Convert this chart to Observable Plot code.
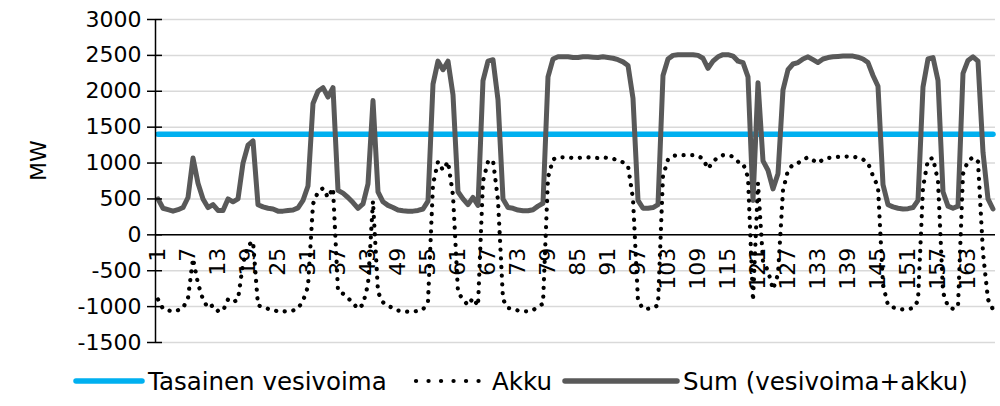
<!DOCTYPE html>
<html>
<head>
<meta charset="utf-8">
<script src="https://cdn.jsdelivr.net/npm/d3@7"></script>
<script src="https://cdn.jsdelivr.net/npm/@observablehq/plot@0.6"></script>
<style>
  html, body { margin: 0; padding: 0; background: #fff; }
  #wrap { width: 1000px; height: 406px; position: relative; overflow: hidden; font-family: "DejaVu Sans", Verdana, sans-serif; }
  #legend { position: relative; width: 1000px; height: 50px; }
  .item { position: absolute; top: 0; height: 50px; display: flex; align-items: center; font-size: 24.5px; color: #000; white-space: nowrap; }
  .item svg { display: block; margin-right: 3px; }
</style>
</head>
<body>
<div id="wrap">
  <div id="chart"></div>
  <div id="legend"></div>
</div>
<script>
// ---- data ----
const hours = [
  1,2,3,4,5,6,7,8,9,10,11,12,13,14,15,16,17,18,19,20,21,22,23,24,25,26,27,28,29,30,
  31,32,33,34,35,36,37,38,39,40,41,42,43,44,45,46,47,48,49,50,51,52,53,54,55,56,57,58,59,60,
  61,62,63,64,65,66,67,68,69,70,71,72,73,74,75,76,77,78,79,80,81,82,83,84,85,86,87,88,89,90,
  91,92,93,94,95,96,97,98,99,100,101,102,103,104,105,106,107,108,109,110,111,112,113,114,115,116,117,118,119,120,
  121,122,123,124,125,126,127,128,129,130,131,132,133,134,135,136,137,138,139,140,141,142,143,144,145,146,147,148,149,150,
  151,152,153,154,155,156,157,158,159,160,161,162,163,164,165,166,167,168
];
const xTickLabels = [1,7,13,19,25,31,37,43,49,55,61,67,73,79,85,91,97,103,109,115,121,127,133,139,145,151,157,163];
const yTicks = [-1500,-1000,-500,0,500,1000,1500,2000,2500,3000];
const seriesNames = ["Tasainen vesivoima", "Akku", "Sum (vesivoima+akku)"];
const hydroLevel = 1400; // Tasainen vesivoima, MW (flat)
const akku = [
  -900,-1030,-1050,-1070,-1050,-1020,-880,-330,-680,-900,-1020,-980,-1060,-1060,-900,-940,-900,-400,-150,-90,
  -980,-1010,-1030,-1040,-1070,-1070,-1060,-1055,-1025,-920,-720,430,600,650,520,650,-780,-820,-880,-950,
  -1030,-970,-690,470,-800,-940,-990,-1020,-1055,-1065,-1070,-1070,-1060,-1040,-930,700,1020,900,1020,550,
  -800,-900,-980,-880,-990,750,1020,1040,480,-900,-1020,-1030,-1055,-1065,-1065,-1050,-1000,-960,800,1050,
  1080,1080,1080,1070,1070,1080,1080,1075,1070,1080,1070,1060,1040,1010,960,500,-920,-1030,-1030,-1020,
  -980,820,1050,1100,1110,1110,1110,1110,1100,1060,920,1020,1080,1110,1110,1090,1020,1000,800,-920,
  720,-370,-500,-760,-550,620,900,980,1000,1050,1080,1040,1000,1050,1070,1080,1085,1090,1090,1090,
  1075,1050,1000,820,670,-700,-980,-1010,-1030,-1040,-1035,-1020,-920,660,1050,1070,750,-800,-1000,-1030,
  -1000,850,1030,1080,1020,-250,-900,-1040
];
const sumSeries = [
  500,370,350,330,350,380,520,1070,720,500,380,420,340,340,500,460,500,1000,1250,1310,
  420,390,370,360,330,330,340,345,375,480,680,1830,2000,2050,1920,2050,620,580,520,450,
  370,430,710,1870,600,460,410,380,345,335,330,330,340,360,470,2100,2420,2300,2420,1950,
  600,500,420,520,410,2150,2420,2440,1880,500,380,370,345,335,335,350,400,440,2200,2450,
  2480,2480,2480,2470,2470,2480,2480,2475,2470,2480,2470,2460,2440,2410,2360,1900,480,370,370,380,
  420,2220,2450,2500,2510,2510,2510,2510,2500,2460,2320,2420,2480,2510,2510,2490,2420,2400,2200,480,
  2120,1030,900,640,850,2020,2300,2380,2400,2450,2480,2440,2400,2450,2470,2480,2485,2490,2490,2490,
  2475,2450,2400,2220,2070,700,420,390,370,360,365,380,480,2060,2450,2470,2150,600,400,370,
  400,2250,2430,2480,2420,1150,500,360
];

// ---- tables ----
const hydroRows = hours.map(h => ({hour: h, value: hydroLevel}));
const akkuRows = hours.map((h, i) => ({hour: h, value: akku[i]}));
const sumRows = hours.map((h, i) => ({hour: h, value: sumSeries[i]}));

const colors = {hydro: "#00B0F0", akku: "#000000", sum: "#595959"};
const xDomain = [hours[0] - 0.5, hours[hours.length - 1] + 0.5];
const yDomain = [yTicks[0], yTicks[yTicks.length - 1]];

const chart = Plot.plot({
  width: 1000,
  height: 356,
  marginLeft: 155,
  marginRight: 5,
  marginTop: 19,
  marginBottom: 14,
  style: {fontFamily: "'DejaVu Sans', Verdana, sans-serif", fontSize: "22px", color: "#000", background: "#fff"},
  x: {type: "linear", domain: xDomain, axis: null},
  y: {domain: yDomain, axis: null},
  marks: [
    Plot.gridY(yTicks, {stroke: "#d9d9d9", strokeOpacity: 1, strokeWidth: 1.5}),
    Plot.lineY(hydroRows, {x: "hour", y: "value", stroke: colors.hydro, strokeWidth: 5.5, strokeLinecap: "round"}),
    Plot.lineY(sumRows, {x: "hour", y: "value", stroke: colors.sum, strokeWidth: 5, strokeLinejoin: "round", strokeLinecap: "round"}),
    Plot.lineY(akkuRows, {x: "hour", y: "value", stroke: colors.akku, strokeWidth: 4.2, strokeDasharray: "0.1 8.6", strokeLinecap: "round", strokeLinejoin: "round"}),
    Plot.ruleY([0], {stroke: "#000", strokeWidth: 1.5}),
    Plot.ruleX([xDomain[0]], {y1: yDomain[0], y2: yDomain[1], stroke: "#000", strokeWidth: 1.5}),
    Plot.axisY(yTicks, {tickSize: 8, tickPadding: 6, fontSize: 22, label: null, stroke: "#000", strokeWidth: 1.5, tickFormat: d => String(d)}),
    Plot.tickY(yTicks, {y: d => d, insetRight: 833, stroke: "#000", strokeWidth: 1.5}),
    Plot.text(xTickLabels, {x: d => d, y: () => 0, text: d => String(d), rotate: -90, textAnchor: "end", lineAnchor: "middle", dy: 13, fontSize: 22, fill: "#000"}),
    Plot.text(["MW"], {frameAnchor: "left", dx: -117, rotate: -90, fontSize: 22, fill: "#000", text: d => d})
  ]
});
document.getElementById("chart").appendChild(chart);

// ---- legend ----
const legend = document.getElementById("legend");
const legendItems = [
  {name: seriesNames[0], left: 73, w: 72, stroke: colors.hydro, width: 5.5, dash: null},
  {name: seriesNames[1], left: 413, w: 76, stroke: colors.akku, width: 4.2, dash: "0.1 12.4"},
  {name: seriesNames[2], left: 562, w: 118, stroke: colors.sum, width: 5.5, dash: null}
];
for (const it of legendItems) {
  const div = document.createElement("div");
  div.className = "item";
  div.style.left = it.left + "px";
  const ns = "http://www.w3.org/2000/svg";
  const svg = document.createElementNS(ns, "svg");
  svg.setAttribute("width", it.w);
  svg.setAttribute("height", 12);
  const ln = document.createElementNS(ns, "line");
  ln.setAttribute("x1", 3); ln.setAttribute("x2", it.w - 3);
  ln.setAttribute("y1", 6); ln.setAttribute("y2", 6);
  ln.setAttribute("stroke", it.stroke);
  ln.setAttribute("stroke-width", it.width);
  ln.setAttribute("stroke-linecap", "round");
  if (it.dash) ln.setAttribute("stroke-dasharray", it.dash);
  svg.appendChild(ln);
  div.appendChild(svg);
  const span = document.createElement("span");
  span.textContent = it.name;
  div.appendChild(span);
  legend.appendChild(div);
}
</script>
</body>
</html>
